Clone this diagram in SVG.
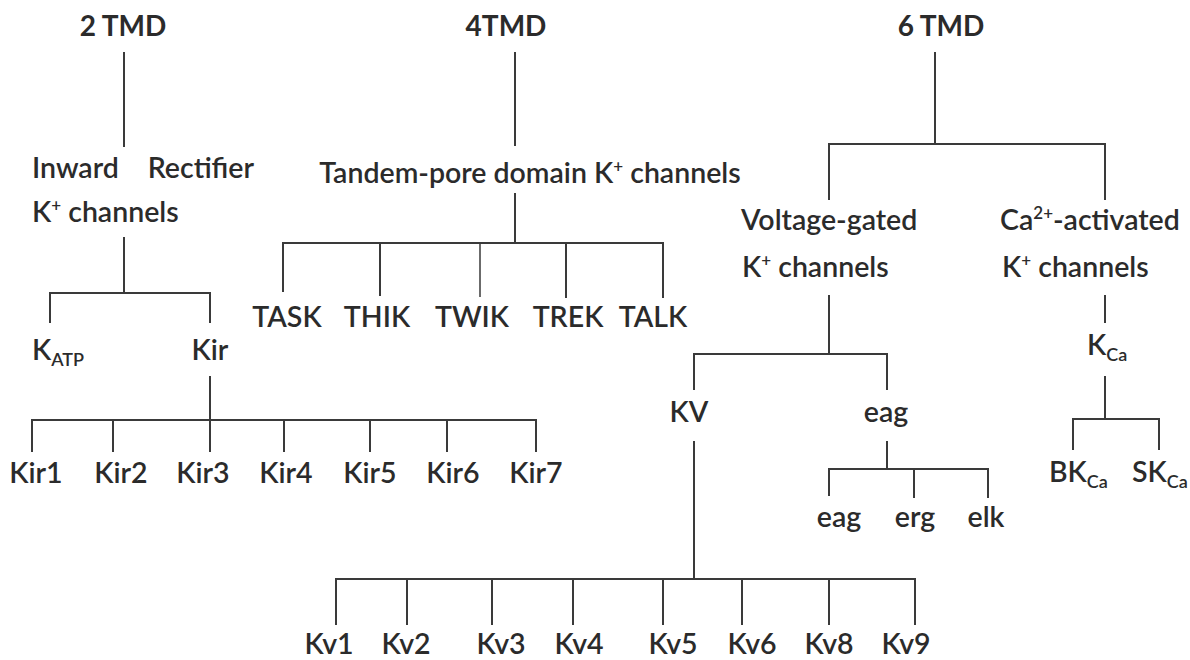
<svg xmlns="http://www.w3.org/2000/svg" width="1190" height="660" viewBox="0 0 1190 660">
<style>
text{font-family:Lato,"Open Sans","Liberation Sans",sans-serif;font-size:28.5px;font-weight:600;fill:#2b2b2b}
.h{font-weight:700;font-size:28px}
.m{text-anchor:middle}
.e{text-anchor:end}
.sup{font-size:17px}
.sub{font-size:18px}
#connectors path{fill:none;stroke:#3a3a3a;stroke-width:2}
</style>
<rect width="1190" height="660" fill="#ffffff"/>
<g id="connectors">
<path d="M124 52V147"/>
<path d="M515 52V146"/>
<path d="M935 52V144M829 200V144H1105V200"/>
<path d="M124 237V293M50 323V293H210V323"/>
<path d="M210 376V452M32 452V420H536V452M113 420V452M284 420V452M370 420V452M447 420V452"/>
<path d="M515 193V243M283 292V243H663V298M380 243V296M566 243V298"/>
<path d="M480 243V297" style="stroke-width:1.5"/>
<path d="M829 295V354M694 390V354H887V390"/>
<path d="M694 441V579M336 625V579H915V625M407 579V625M492 579V625M573 579V625M663 579V625M742 579V625M829 579V625"/>
<path d="M887 441V469M829 496V469H988V498M914 469V498"/>
<path d="M1105 295V323M1105 376V419M1073 450V419H1159V450"/>
</g>
<g id="n2tmd"><text class="h m" x="123" y="36">2 TMD</text></g>
<g id="n4tmd"><text class="h m" x="506" y="36">4TMD</text></g>
<g id="n6tmd"><text class="h m" x="941" y="36">6 TMD</text></g>
<g id="inward"><text x="32" y="178">Inward</text><text class="e" x="254" y="178">Rectifier</text><text x="32" y="222">K<tspan class="sup" dy="-11">+</tspan><tspan dy="11"> channels</tspan></text></g>
<g id="tandem"><text class="m" x="530" y="183">Tandem-pore domain K<tspan class="sup" dy="-11">+</tspan><tspan dy="11"> channels</tspan></text></g>
<g id="task"><text class="m" x="287" y="327">TASK</text></g>
<g id="thik"><text class="m" x="377" y="327">THIK</text></g>
<g id="twik"><text class="m" x="472" y="327">TWIK</text></g>
<g id="trek"><text class="m" x="568" y="327">TREK</text></g>
<g id="talk"><text class="m" x="653" y="327">TALK</text></g>
<g id="katp"><text x="32" y="360">K<tspan class="sub" dy="6">ATP</tspan></text></g>
<g id="kir"><text class="m" x="210" y="360">Kir</text></g>
<g id="kir1"><text class="m" x="36" y="483">Kir1</text></g>
<g id="kir2"><text class="m" x="121" y="483">Kir2</text></g>
<g id="kir3"><text class="m" x="203" y="483">Kir3</text></g>
<g id="kir4"><text class="m" x="286" y="483">Kir4</text></g>
<g id="kir5"><text class="m" x="370" y="483">Kir5</text></g>
<g id="kir6"><text class="m" x="453" y="483">Kir6</text></g>
<g id="kir7"><text class="m" x="536" y="483">Kir7</text></g>
<g id="voltage"><text x="741" y="230">Voltage-gated</text><text x="742" y="277">K<tspan class="sup" dy="-11">+</tspan><tspan dy="11"> channels</tspan></text></g>
<g id="caact"><text x="1000" y="230">Ca<tspan class="sup" dy="-11">2+</tspan><tspan dy="11">-activated</tspan></text><text x="1002" y="277">K<tspan class="sup" dy="-11">+</tspan><tspan dy="11"> channels</tspan></text></g>
<g id="kv"><text class="m" x="689" y="422">KV</text></g>
<g id="eagp"><text class="m" x="886" y="422">eag</text></g>
<g id="kca"><text x="1087" y="355">K<tspan class="sub" dy="6">Ca</tspan></text></g>
<g id="bkca"><text x="1049" y="482">BK<tspan class="sub" dy="6">Ca</tspan></text></g>
<g id="skca"><text x="1132" y="482">SK<tspan class="sub" dy="6">Ca</tspan></text></g>
<g id="eag"><text class="m" x="839" y="527">eag</text></g>
<g id="erg"><text class="m" x="915" y="527">erg</text></g>
<g id="elk"><text class="m" x="986" y="527">elk</text></g>
<g id="kv1"><text class="m" x="329" y="654">Kv1</text></g>
<g id="kv2"><text class="m" x="406" y="654">Kv2</text></g>
<g id="kv3"><text class="m" x="501" y="654">Kv3</text></g>
<g id="kv4"><text class="m" x="579" y="654">Kv4</text></g>
<g id="kv5"><text class="m" x="673" y="654">Kv5</text></g>
<g id="kv6"><text class="m" x="752" y="654">Kv6</text></g>
<g id="kv8"><text class="m" x="829" y="654">Kv8</text></g>
<g id="kv9"><text class="m" x="906" y="654">Kv9</text></g>
</svg>
